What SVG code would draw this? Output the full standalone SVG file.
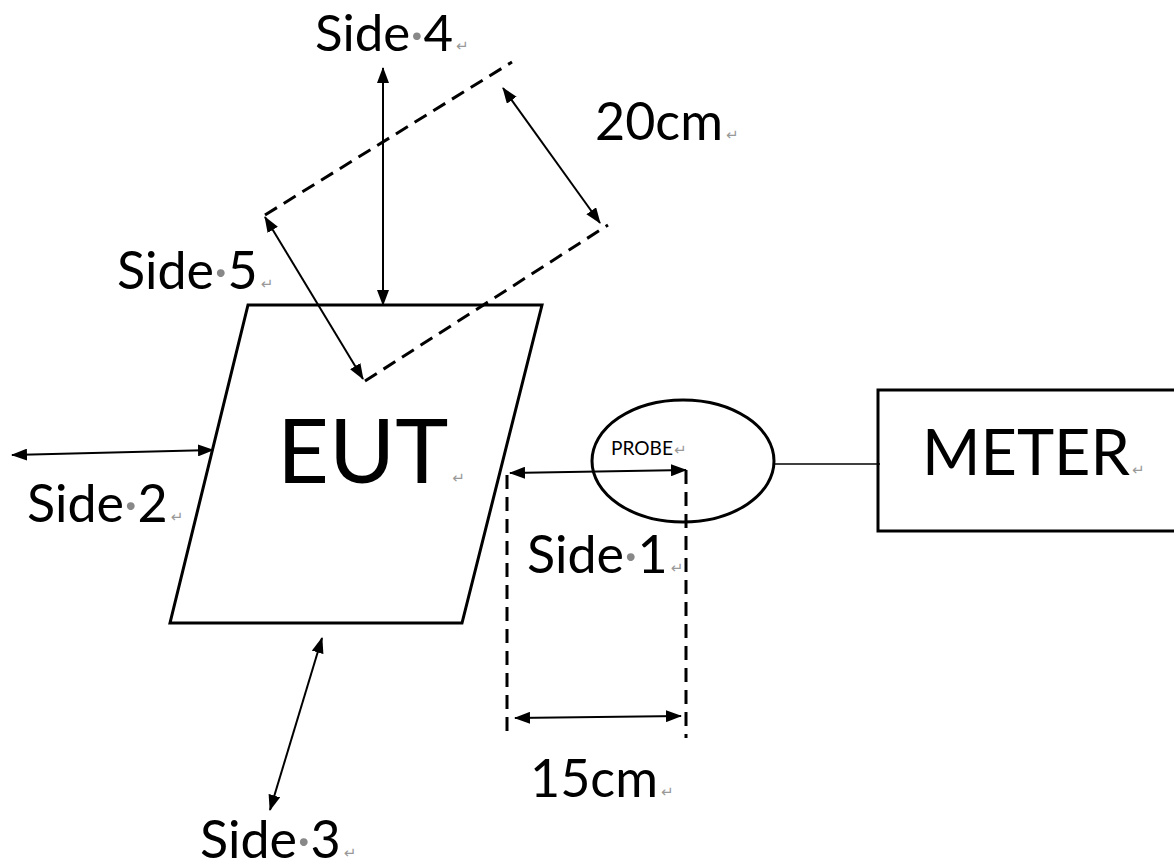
<svg xmlns="http://www.w3.org/2000/svg" width="1174" height="868" viewBox="0 0 1174 868">
<style>
.t{font-family:Lato,"Open Sans","DejaVu Sans",sans-serif;fill:#000}
.m{fill:#888}
.pm{fill:#999;font-size:15px;font-family:"DejaVu Sans",sans-serif}
.shape{fill:none;stroke:#000;stroke-width:3}
.dash{fill:none;stroke:#000;stroke-width:3;stroke-dasharray:14 8}
.arr{fill:none;stroke:#000;stroke-width:2;marker-start:url(#ah);marker-end:url(#ah)}
.thin{fill:none;stroke:#000;stroke-width:1.5}
</style>
<defs>
<marker id="ah" viewBox="0 0 16 12" markerUnits="userSpaceOnUse" markerWidth="16" markerHeight="12" refX="15" refY="6" orient="auto-start-reverse">
<path d="M0,0 L16,6 L0,12 z" fill="#000"/>
</marker>
</defs>
<rect width="1174" height="868" fill="#fff"/>

<g id="eut">
<polygon class="shape" points="248,305 542,305 462,623 170,623"/>
<text class="t" x="277" y="483" font-size="90">EUT<tspan class="pm" dx="4">↵</tspan></text>
</g>

<g id="zone">
<line class="dash" x1="265" y1="215" x2="512" y2="62"/>
<line class="dash" x1="365" y1="381" x2="608" y2="225"/>
</g>

<g id="probe">
<ellipse class="shape" cx="683" cy="461" rx="91" ry="61"/>
<text class="t" x="611" y="455" font-size="20" textLength="62" lengthAdjust="spacingAndGlyphs">PROBE</text>
<text class="pm" x="674" y="455" font-size="12">↵</text>
</g>

<g id="meter">
<rect class="shape" x="878" y="390" width="310" height="141"/>
<text class="t" x="922" y="475" font-size="63">METER<tspan class="pm" dx="2">↵</tspan></text>
</g>

<g id="connectors">
<line class="arr" x1="383" y1="68" x2="383" y2="305"/>
<line class="arr" x1="503" y1="88" x2="600" y2="223"/>
<line class="arr" x1="265" y1="217" x2="363" y2="379"/>
<line class="arr" x1="12" y1="455" x2="213" y2="450"/>
<line class="arr" x1="510" y1="473" x2="686" y2="470"/>
<line class="arr" x1="515" y1="718" x2="681" y2="716"/>
<line class="arr" x1="322" y1="638" x2="270" y2="810"/>
<line class="dash" x1="507" y1="475" x2="507" y2="738" stroke-width="2.5"/>
<line class="dash" x1="686" y1="470" x2="686" y2="738" stroke-width="2.5"/>
<line class="thin" x1="775" y1="464" x2="880" y2="464"/>
</g>

<g id="labels">
<text class="t" x="315" y="51" font-size="51">Side<tspan class="m">·</tspan>4<tspan class="pm" dx="3">↵</tspan></text>
<text class="t" x="595" y="140" font-size="52">20cm<tspan class="pm" dx="3">↵</tspan></text>
<text class="t" x="117" y="289" font-size="52">Side<tspan class="m">·</tspan>5<tspan class="pm" dx="3">↵</tspan></text>
<text class="t" x="27" y="522" font-size="52">Side<tspan class="m">·</tspan>2<tspan class="pm" dx="3">↵</tspan></text>
<text class="t" x="527" y="573" font-size="52">Side<tspan class="m">·</tspan>1<tspan class="pm" dx="3">↵</tspan></text>
<text class="t" x="530" y="797" font-size="52">15cm<tspan class="pm" dx="3">↵</tspan></text>
<text class="t" x="200" y="858" font-size="52">Side<tspan class="m">·</tspan>3<tspan class="pm" dx="3">↵</tspan></text>
</g>
</svg>
